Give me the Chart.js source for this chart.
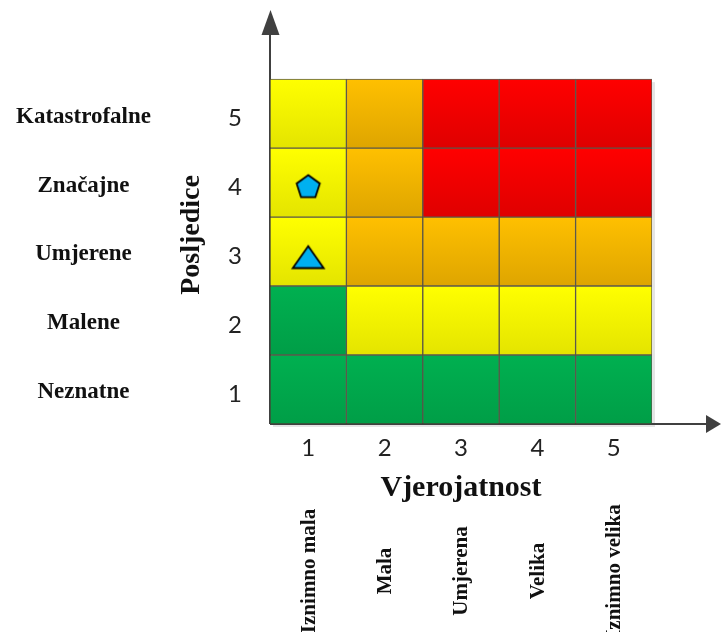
<!DOCTYPE html>
<html>
<head>
<meta charset="utf-8">
<script src="https://cdn.jsdelivr.net/npm/chart.js@4/dist/chart.umd.min.js"></script>
<style>
  html, body { margin: 0; padding: 0; background: #fff; }
  #wrap { width: 721px; height: 632px; position: relative; }
</style>
</head>
<body>
<div id="wrap"><canvas id="riskChart"></canvas></div>
<script>
'use strict';
// data up here so it is easy to change later
var probTicks = ['1', '2', '3', '4', '5'];
var probLabels = ['Iznimno mala', 'Mala', 'Umjerena', 'Velika', 'Iznimno velika'];
var consTicks = ['1', '2', '3', '4', '5'];
var consLabels = ['Neznatne', 'Malene', 'Umjerene', 'Značajne', 'Katastrofalne'];
// rows = posljedice 1..5, columns = vjerojatnost 1..5
var riskLevels = [
  ['low', 'low', 'low', 'low', 'low'],
  ['low', 'medium', 'medium', 'medium', 'medium'],
  ['medium', 'high', 'high', 'high', 'high'],
  ['medium', 'high', 'extreme', 'extreme', 'extreme'],
  ['medium', 'high', 'extreme', 'extreme', 'extreme']
];
var riskX = ['1', '1'];
var riskY = [3.45, 2.42];
var riskShapes = ['pentagon', 'triangle'];

// colours (top, bottom of each cell)
var levelColors = {
  low: ['#00b050', '#009e47'],
  medium: ['#ffff00', '#e4e400'],
  high: ['#ffc000', '#dea500'],
  extreme: ['#ff0000', '#df0000']
};
var gridLine = 'rgba(70,66,50,0.85)';
var axisGray = '#404040';
var markerFill = '#00b0f0';
var yMax = 5.48; // axis runs a bit past the grid so the arrow has room

function makeMarker (shape) {
  var c = document.createElement('canvas');
  var g = c.getContext('2d');
  if (shape === 'pentagon') {
    c.width = 28; c.height = 27;
    var R = 12.2, cx = 14, cy = 13.5 + 1.2;
    g.beginPath();
    for (var k = 0; k < 5; k++) {
      var a = -Math.PI / 2 + k * 2 * Math.PI / 5;
      var px = cx + R * Math.cos(a), py = cy + R * Math.sin(a);
      if (k === 0) g.moveTo(px, py); else g.lineTo(px, py);
    }
    g.closePath();
  } else {
    c.width = 36; c.height = 27;
    g.beginPath();
    g.moveTo(18, 2.5);
    g.lineTo(33.5, 24.5);
    g.lineTo(2.5, 24.5);
    g.closePath();
  }
  g.fillStyle = markerFill;
  g.fill();
  g.lineWidth = 1.8;
  g.strokeStyle = '#000';
  g.lineJoin = 'miter';
  g.stroke();
  return c;
}

function cellFill (ctx) {
  var row = ctx.datasetIndex;
  var col = ctx.dataIndex;
  var cols = levelColors[riskLevels[row][col]];
  var chart = ctx.chart;
  if (!chart.chartArea || !chart.scales.y) return cols[0];
  var top = chart.scales.y.getPixelForValue(row + 1);
  var bottom = chart.scales.y.getPixelForValue(row);
  if (!isFinite(top) || !isFinite(bottom)) return cols[0];
  var grad = chart.ctx.createLinearGradient(0, top, 0, bottom);
  grad.addColorStop(0, cols[0]);
  grad.addColorStop(1, cols[1]);
  return grad;
}

var datasets = consTicks.map(function (t, r) {
  return {
    type: 'bar',
    label: consLabels[r],
    data: probTicks.map(function () { return [r, r + 1]; }),
    backgroundColor: cellFill,
    borderColor: gridLine,
    borderWidth: 1,
    borderSkipped: false,
    barPercentage: 1,
    categoryPercentage: 1,
    order: 2
  };
});
datasets.push({
  type: 'scatter',
  label: 'Rizici',
  data: riskY.map(function (v, i) { return {x: riskX[i], y: v}; }),
  pointStyle: riskShapes.map(makeMarker),
  order: 1
});

var arrowsPlugin = {
  id: 'arrows',
  beforeDatasetsDraw: function (chart) {
    var ctx = chart.ctx;
    var x = chart.scales.x, y = chart.scales.y;
    var left = chart.chartArea.left, right = chart.chartArea.right;
    var top = y.getPixelForValue(5), bottom = y.getPixelForValue(0);
    ctx.save();
    // soft shadow of the grid
    ctx.fillStyle = 'rgba(0,0,0,0.10)';
    ctx.fillRect(left + 3, top + 3, right - left, bottom - top);
    ctx.strokeStyle = axisGray;
    ctx.fillStyle = axisGray;
    ctx.lineWidth = 2;
    ctx.beginPath();
    ctx.moveTo(left, bottom);
    ctx.lineTo(left, 30);
    ctx.moveTo(left, bottom);
    ctx.lineTo(712, bottom);
    ctx.stroke();
    ctx.beginPath();
    ctx.moveTo(left + 0.5, 10);
    ctx.lineTo(left + 9.5, 35);
    ctx.lineTo(left - 8.5, 35);
    ctx.closePath();
    ctx.fill();
    ctx.beginPath();
    ctx.moveTo(721, bottom);
    ctx.lineTo(706, bottom - 9);
    ctx.lineTo(706, bottom + 9);
    ctx.closePath();
    ctx.fill();
    ctx.restore();
  },
  afterDraw: function (chart) {
    // vertical names under the probability axis
    var ctx = chart.ctx;
    var x = chart.scales.x;
    ctx.save();
    ctx.font = 'bold 21px "Liberation Serif", "Times New Roman", serif';
    ctx.fillStyle = '#111';
    ctx.textAlign = 'center';
    ctx.textBaseline = 'middle';
    probLabels.forEach(function (lab, i) {
      ctx.save();
      ctx.translate(x.getPixelForValue(i) + 1, x.bottom + 65);
      ctx.rotate(-Math.PI / 2);
      ctx.fillText(lab, 0, 0);
      ctx.restore();
    });
    ctx.restore();
  }
};

function rowTicks (scale) {
  scale.ticks = consTicks.map(function (t, i) { return {value: i + 0.5}; });
}

var serifBold = '"Liberation Serif", "Times New Roman", serif';

function makeChart () {
  var ctx = document.getElementById('riskChart');
  new Chart(ctx, {
    type: 'bar',
    data: {labels: probTicks, datasets: datasets},
    plugins: [arrowsPlugin],
    options: {
      responsive: true,
      maintainAspectRatio: false,
      animation: false,
      layout: {padding: {left: 0, right: 69, top: 46, bottom: 126}},
      plugins: {legend: {display: false}, tooltip: {enabled: false}},
      scales: {
        x: {
          type: 'category',
          stacked: true,
          grid: {display: false, drawTicks: false},
          border: {display: false},
          ticks: {font: {family: 'Lato', size: 24}, color: '#222', padding: 10},
          title: {display: true, text: 'Vjerojatnost', color: '#111',
            font: {family: serifBold, size: 30, weight: 'bold'}, padding: {top: 0, bottom: 0}},
          afterFit: function (s) { s.height = 82; }
        },
        y: {
          type: 'linear',
          position: 'left',
          weight: 0,
          stacked: false,
          min: 0,
          max: yMax,
          afterBuildTicks: rowTicks,
          grid: {display: false, drawTicks: false},
          border: {display: false},
          ticks: {
            font: {family: 'Lato', size: 24}, color: '#222', padding: 28,
            crossAlign: 'center', labelOffset: 5,
            callback: function (v, i) { return consTicks[i]; }
          },
          title: {display: true, text: 'Posljedice', color: '#111',
            font: {family: serifBold, size: 28, weight: 'bold'}, padding: {top: 5, bottom: 0}},
          afterFit: function (s) { s.width = 100; }
        },
        yNames: {
          type: 'linear',
          position: 'left',
          weight: 1,
          min: 0,
          max: yMax,
          afterBuildTicks: rowTicks,
          grid: {display: false, drawTicks: false},
          border: {display: false},
          ticks: {
            font: {family: serifBold, size: 23, weight: 'bold'}, color: '#111', padding: 19,
            crossAlign: 'center', labelOffset: 3,
            callback: function (v, i) { return consLabels[i]; }
          },
          afterFit: function (s) { s.width = 170; }
        }
      }
    }
  });
}
makeChart();
</script>
</body>
</html>
